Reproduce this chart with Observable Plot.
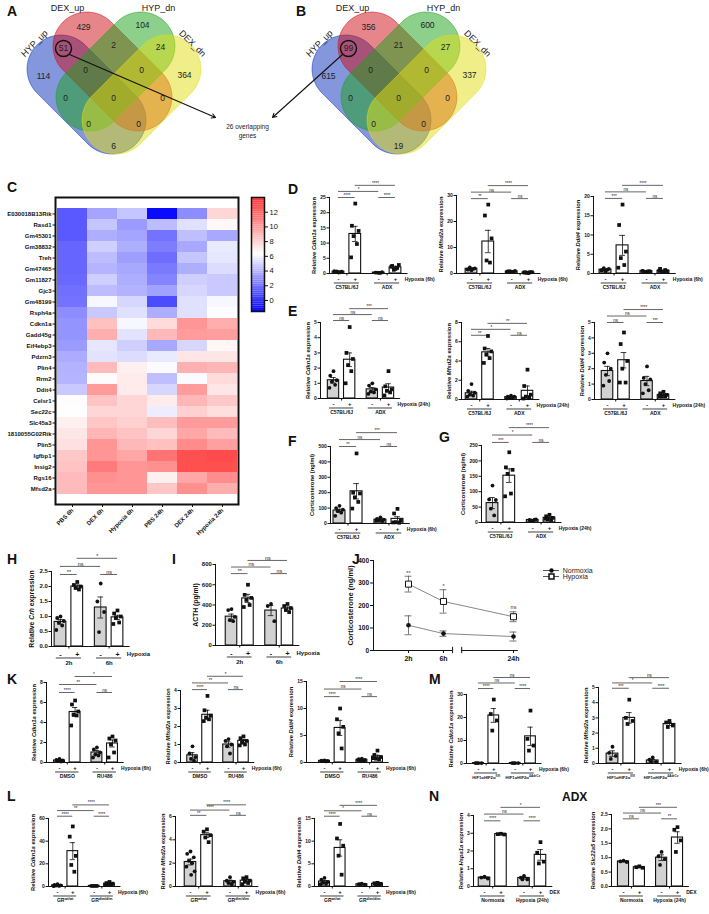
<!DOCTYPE html>
<html><head><meta charset="utf-8">
<script src="https://cdn.jsdelivr.net/npm/d3@7"></script>
<script src="https://cdn.jsdelivr.net/npm/@observablehq/plot@0.6"></script>
<style>
body{margin:0;background:#fff;font-family:"Liberation Sans",Arial,Helvetica,sans-serif;}
#fig{position:relative;width:709px;height:914px;overflow:hidden;background:#fff;}
#fig svg{position:absolute;overflow:visible;}
.lab{position:absolute;font-weight:bold;font-size:14px;line-height:1;color:#111;}
</style></head><body><div id="fig"></div><script>
// ================= DATA =================
// Venn (A, B)
const vennSets = ["HYP_up","DEX_up","HYP_dn","DEX_dn"];
const vennRegions = ["b","r","g","y","br","rg","gy","brg","rgy","bg","brgy","ry","bgy","bry","by"];
const vennCountsA = [114,429,104,364,51,2,24,0,0,0,0,0,0,0,6];
const vennCountsB = [615,356,600,337,99,21,27,0,0,0,0,0,0,0,19];
const overlapText = "26 overlapping\ngenes";

// Heatmap (C)
const heatConds = ["PBS 6h","DEX 6h","Hypoxia 6h","PBS 24h","DEX 24h","Hypoxia 24h"];
const heatGenes = ["E030018B13Rik","Rasd1","Gm45301","Gm38832","Treh","Gm47465","Gm11827","Gjc3","Gm48199","Rsph4a","Cdkn1a","Gadd45g","Eif4ebp3","Pdzrn3","Plin4","Rrm2","Ddit4","Celsr1","Sec22c","Slc45a3","1810055G02Rik","Plin5","Igfbp1","Insig2","Rgs16","Mfsd2a"];
const heatValues = [
 [1.2,3.5,4.5,-1.2,2.8,7.8],
 [1.2,4.5,3.2,4.2,5.3,6.5],
 [1.2,3.8,3.5,2.0,4.3,3.6],
 [1.6,4.8,3.8,2.3,3.6,5.6],
 [1.6,4.2,3.3,1.8,4.5,5.5],
 [1.6,4.0,3.6,2.2,3.8,5.2],
 [1.7,4.8,3.8,2.5,4.8,4.6],
 [1.9,4.2,3.9,3.4,5.0,4.6],
 [2.0,6.0,5.0,0.8,5.3,6.0],
 [2.8,4.6,5.3,3.8,5.3,6.2],
 [3.0,8.6,6.0,7.6,10.2,9.3],
 [3.0,9.3,5.4,8.9,10.0,9.9],
 [3.2,5.5,4.8,3.6,5.0,6.6],
 [3.7,5.4,5.2,5.6,7.2,7.2],
 [3.9,8.8,6.8,6.1,9.2,9.0],
 [4.0,6.4,7.0,4.3,6.1,7.6],
 [4.6,10.0,7.0,5.0,10.0,7.2],
 [6.2,8.5,7.8,7.0,9.0,8.3],
 [6.3,7.8,7.8,5.7,8.0,7.5],
 [6.8,8.4,8.0,8.7,10.0,10.0],
 [7.2,9.0,8.5,7.8,9.6,8.8],
 [7.4,10.2,8.9,8.6,10.6,9.8],
 [8.3,10.2,9.6,11.5,12.8,13.0],
 [8.5,11.2,10.2,10.4,12.8,12.8],
 [8.8,10.4,10.2,6.8,9.6,10.5],
 [8.8,10.2,10.2,8.4,10.4,9.3]
];
const heatTicks = [0,2,4,6,8,10,12];

// Bar panels: mean, sem, points per bar (-,+,-,+), significance [barA, barB, level, label]
const D1_mean=[0.6,13,0.3,2.0], D1_sem=[0.1,2.5,0.05,0.4];
const D1_pts=[[0.3,0.5,0.6,0.7,0.4,0.8],[23,15.7,14,12.3,9.7,5.3],[0.2,0.3,0.4,0.3,0.2],[1.5,2.5,2.8,1.2,1.8,2.2]];
const D1_sig=[[0,1,0,"****"],[0,2,1,"*"],[1,3,2,"****"],[2,3,0,"****"]];
const D2_mean=[1.8,12.3,0.8,0.4], D2_sem=[0.2,4.3,0.1,0.05];
const D2_pts=[[1.2,1.5,2.0,2.3,1.8,1.6],[26.5,22.3,13.5,5.0,4.2],[0.6,0.8,1.0,0.9,0.7,0.8],[0.2,0.4,0.5,0.3,0.5,0.4]];
const D2_sig=[[0,1,0,"**"],[0,2,1,"ns"],[1,3,2,"****"],[2,3,0,"ns"]];
const D3_mean=[1.0,7.3,0.6,0.7], D3_sem=[0.12,2.6,0.05,0.12];
const D3_pts=[[0.6,0.9,1.2,1.4,1.0,0.8],[17.9,12.6,5.7,4.0,2.2,1.5],[0.5,0.7,0.6,0.4,0.6,0.7],[0.4,1.2,0.6,0.5,0.9,0.7]];
const D3_sig=[[0,1,0,"***"],[0,2,1,"ns"],[1,3,2,"****"],[2,3,0,"ns"]];
const E1_mean=[1.2,2.55,0.6,0.72], E1_sem=[0.18,0.45,0.12,0.25];
const E1_pts=[[1.8,1.5,1.2,1.1,0.9,0.7],[4.7,3.0,2.6,2.2,1.8,1.0],[1.0,0.85,0.6,0.45,0.4,0.3],[1.8,0.8,0.6,0.5,0.4,0.2]];
const E1_sig=[[0,1,0,"ns"],[0,2,1,"ns"],[1,3,2,"***"],[2,3,0,"ns"]];
const E2_mean=[0.65,4.9,0.25,0.9], E2_sem=[0.2,0.4,0.05,0.5];
const E2_pts=[[1.6,0.9,0.7,0.5,0.4,0.3],[6.6,5.3,5.0,4.7,4.3,3.8],[0.4,0.3,0.3,0.2,0.2,0.1],[3.1,1.4,0.5,0.3,0.2,0.1]];
const E2_sig=[[0,1,0,"**"],[0,2,1,"*"],[1,3,2,"**"],[2,3,0,"ns"]];
const E3_mean=[1.85,2.55,1.2,0.3], E3_sem=[0.3,0.5,0.3,0.06];
const E3_pts=[[3.0,2.4,2.0,1.6,1.2,0.9],[4.35,3.6,2.5,2.0,1.1,1.1],[2.15,1.4,1.3,1.0,0.6,0.4],[0.5,0.4,0.3,0.2,0.2,0.2]];
const E3_sig=[[0,1,0,"ns"],[0,2,1,"ns"],[1,3,2,"****"],[2,3,0,"***"]];
const F_mean=[84,209,25,30], F_sem=[9,50,4,14];
const F_pts=[[115,100,90,80,70,50],[455,200,195,170,140,97],[40,30,25,20,15,18],[95,65,20,8,5,7]];
const F_sig=[[0,1,0,"**"],[0,2,1,"ns"],[1,3,2,"***"],[2,3,0,"ns"]];
const G_mean=[63,152,8,15], G_sem=[18,22,1.5,3];
const G_pts=[[120,75,73,45,23],[228,179,171,158,94,85],[5,8,10,7,9],[25,20,15,10,8,12]];
const G_sig=[[0,1,0,"***"],[0,2,1,"*"],[1,3,2,"****"],[2,3,0,"ns"]];
const H_mean=[0.82,2.0,1.3,0.97], H_sem=[0.08,0.05,0.35,0.07];
const H_pts=[[1.0,0.95,0.85,0.8,0.7,0.55],[2.15,2.05,2.0,1.95,1.9],[2.1,1.5,1.15,0.48],[1.2,1.1,1.0,0.95,0.8,0.75]];
const H_sig=[[0,1,0,"**"],[0,2,1,"ns"],[1,3,2,"*"],[2,3,0,"ns"]];
const I_mean=[285,465,345,365], I_sem=[25,40,50,15];
const I_pts=[[360,350,283,250,240],[600,500,470,450,400,380],[410,390,240],[410,390,370,350,330]];
const I_sig=[[0,1,0,"**"],[0,2,1,"ns"],[1,3,2,"ns"],[2,3,0,"ns"]];
const K1_mean=[0.2,5.05,1.0,1.9], K1_sem=[0.04,0.45,0.2,0.35];
const K1_pts=[[0.35,0.25,0.2,0.15,0.1],[6.2,5.8,5.1,4.8,4.7,3.7],[1.5,1.3,1.0,0.8,0.7,0.5],[2.6,2.4,2.2,1.8,1.0,0.5]];
const K1_sig=[[0,1,0,"****"],[0,2,1,"**"],[1,3,2,"*"],[2,3,0,"ns"]];
const K2_mean=[0.4,2.65,1.0,1.2], K2_sem=[0.15,0.25,0.15,0.08];
const K2_pts=[[0.9,0.5,0.3,0.2,0.1],[3.7,2.9,2.6,2.5,2.4,2.3],[1.3,1.2,1.0,0.9,0.5],[1.45,1.35,1.2,1.1,1.0,0.95]];
const K2_sig=[[0,1,0,"****"],[0,2,1,"**"],[1,3,2,"*"],[2,3,0,"ns"]];
const K3_mean=[0.3,6.4,0.5,1.1], K3_sem=[0.04,1.4,0.06,0.25];
const K3_pts=[[0.4,0.35,0.3,0.25,0.2],[10.0,8.0,6.6,5.4,2.6],[0.7,0.6,0.5,0.4,0.3,0.5],[2.2,1.4,1.0,0.7,0.6,0.8]];
const K3_sig=[[0,1,0,"****"],[0,2,1,"ns"],[1,3,2,"****"],[2,3,0,"ns"]];
const M1_mean=[0.2,20.9,0.2,11.8], M1_sem=[0.02,3.0,0.02,4.0];
const M1_pts=[[0.2,0.2,0.2,0.2],[27.8,21.5,18.7,14.3],[0.2,0.2,0.2,0.2],[23,10.7,7.8,5.6]];
const M1_sig=[[0,1,0,"****"],[0,2,1,"ns"],[1,3,2,"ns"],[2,3,0,"****"]];
const M2_mean=[0.65,3.0,0.2,2.6], M2_sem=[0.18,0.35,0.07,0.1];
const M2_pts=[[1.1,0.7,0.5,0.3],[4.2,3.0,2.8,2.6],[0.4,0.25,0.1,0.1],[2.8,2.7,2.5,2.4]];
const M2_sig=[[0,1,0,"***"],[0,2,1,"*"],[1,3,2,"ns"],[2,3,0,"****"]];
const L1_mean=[1.0,31.2,0.5,2.5], L1_sem=[0.3,7.5,0.05,0.4];
const L1_pts=[[2.0,1.5,1.0,0.8,0.5,0.3],[53,44,27,19,13],[0.5,0.5,0.5,0.5,0.5],[4,3,2.5,2,1.8,1.5]];
const L1_sig=[[0,1,0,"****"],[0,2,1,"**"],[1,3,2,"****"],[2,3,0,"****"]];
const L2_mean=[2.1,4.4,0.45,0.5], L2_sem=[0.25,0.2,0.1,0.1];
const L2_pts=[[3.0,2.8,2.5,2.2,2.0,1.7,1.3,1.0],[4.9,4.7,4.4,4.2,3.8],[0.8,0.5,0.4,0.3,0.2],[0.8,0.7,0.5,0.4,0.3,0.2]];
const L2_sig=[[0,1,0,"**"],[0,2,1,"****"],[1,3,2,"****"],[2,3,0,"ns"]];
const L3_mean=[1.1,8.5,0.5,0.6], L3_sem=[0.2,1.8,0.05,0.06];
const L3_pts=[[1.9,1.5,1.0,0.8,0.6,0.5],[13.8,10.6,9.0,6.8,2.6],[0.6,0.5,0.4,0.5],[0.8,0.7,0.6,0.5,0.5]];
const L3_sig=[[0,1,0,"****"],[0,2,1,"*"],[1,3,2,"****"],[2,3,0,"ns"]];
const N1_mean=[0.5,2.95,0.48,1.78], N1_sem=[0.03,0.02,0.06,0.3];
const N1_pts=[[0.55,0.5,0.45],[2.97,2.95,2.93],[0.6,0.5,0.4,0.4],[2.5,1.9,1.4,1.3]];
const N1_sig=[[0,1,0,"****"],[0,2,1,"ns"],[1,3,2,"*"],[2,3,0,"****"]];
const N2_mean=[0.87,0.67,1.0,1.7], N2_sem=[0.02,0.02,0.1,0.2];
const N2_pts=[[0.9,0.87,0.85],[0.7,0.67,0.65],[1.2,1.05,0.95,0.75],[2.06,1.97,1.6,1.2]];
const N2_sig=[[0,1,0,"ns"],[0,2,1,"ns"],[1,3,2,"***"],[2,3,0,"**"]];

// J (line chart)
const jTimes = ["2h","6h","24h"];
const jNormMean = [112,75,62], jNormSem = [42,12,20];
const jHypMean = [295,218,150], jHypSem = [35,52,22];
const jSigText = ["**","*","ns"], jSigVal = [345,287,192];
const jTicks = [0,100,200,300,400];

// ================= HELPERS =================
const FONT = '"Liberation Sans", Arial, Helvetica, sans-serif';
const SVGNS = "http://www.w3.org/2000/svg";
const fig = document.getElementById("fig");
function richify(root){
  root.querySelectorAll("text").forEach(t=>{
    const target = (t.children.length===1 && t.children[0].tagName==="tspan") ? t.children[0] : t;
    if (target.children.length) return;
    const s = target.textContent;
    if (!/[{^]/.test(s)) return;
    const parts = s.split(/(\^\{[^}]*\}|\{[^}]*\})/).filter(x=>x);
    target.textContent = "";
    for (const p of parts){
      const ts = document.createElementNS(SVGNS,"tspan");
      if (p.startsWith("^{")){ts.textContent=p.slice(2,-1);ts.setAttribute("baseline-shift","super");ts.setAttribute("font-size","72%");}
      else if (p.startsWith("{")){ts.textContent=p.slice(1,-1);ts.setAttribute("font-style","italic");}
      else ts.textContent=p;
      target.appendChild(ts);
    }
  });
}
function place(el,left,top){el.style.position="absolute";el.style.left=left+"px";el.style.top=top+"px";fig.appendChild(el);richify(el);}
function letter(t,x,y,size){const d=document.createElement("div");d.className="lab";d.textContent=t;d.style.left=x+"px";d.style.top=y+"px";if(size)d.style.fontSize=size+"px";fig.appendChild(d);}
const STYLE = {background:"none",overflow:"visible",fontFamily:FONT,fontWeight:"bold",color:"#111"};

// ================= VENN =================
(function(){
  const colors = ["#092db9","#cd0d15","#19a119","#e1dd11"];
  const shapes = [{cx:86,cy:94,a:45},{cx:112,cy:71,a:45},{cx:115,cy:71,a:135},{cx:141,cy:94,a:135}];
  const half = 36, R = 34, OFF = [0,285];
  function stadium(cx,cy,ang){
    const a=ang*Math.PI/180, ux=Math.cos(a), uy=Math.sin(a);
    const p2=[cx+ux*half,cy+uy*half], p1=[cx-ux*half,cy-uy*half], out=[];
    for(let i=0;i<=30;i++){const t=a-Math.PI/2+Math.PI*i/30;out.push([p2[0]+R*Math.cos(t),p2[1]+R*Math.sin(t)]);}
    for(let i=0;i<=30;i++){const t=a+Math.PI/2+Math.PI*i/30;out.push([p1[0]+R*Math.cos(t),p1[1]+R*Math.sin(t)]);}
    return out;
  }
  const regionXY = {b:[43,76],r:[83,27],g:[142,25],y:[184,75],br:[63,48],rg:[113,45],gy:[160,47],brg:[85,70],rgy:[141,70],bg:[65,98],brgy:[113,98],ry:[162,98],bgy:[88,124],bry:[138,124],by:[113,146]};
  const nameXY = [[34,43,-45],[67,8,0],[158,8,0],[192,43,45]];
  const marks = [];
  vennSets.forEach((s,k)=>{
    const poly = OFF.flatMap((ox,v)=>stadium(shapes[k].cx,shapes[k].cy,shapes[k].a).map(([x,y])=>({x:x+ox,y,v})));
    marks.push(Plot.line(poly,{x:"x",y:"y",z:"v",curve:"linear-closed",fill:colors[k],fillOpacity:0.5,stroke:colors[k],strokeOpacity:0.5,strokeWidth:1}));
  });
  const counts = [vennCountsA,vennCountsB].flatMap((arr,v)=>vennRegions.map((r,i)=>({x:regionXY[r][0]+OFF[v],y:regionXY[r][1],t:String(arr[i])})));
  const names = OFF.flatMap(ox=>vennSets.map((s,k)=>({x:nameXY[k][0]+ox,y:nameXY[k][1],rot:nameXY[k][2],t:s})));
  marks.push(Plot.text(counts,{x:"x",y:"y",text:"t",fontSize:8.5,fill:"#222",fontWeight:"normal"}));
  marks.push(Plot.text(names,{x:"x",y:"y",text:"t",rotate:"rot",fontSize:9,fill:"#222",fontWeight:"normal"}));
  marks.push(Plot.dot([{x:63,y:48},{x:348,y:48}],{x:"x",y:"y",r:8,stroke:"#111",strokeWidth:1.4,fill:"none"}));
  marks.push(Plot.arrow([{x1:69,y1:54,x2:215,y2:117},{x1:342,y1:54,x2:272,y2:117}],{x1:"x1",y1:"y1",x2:"x2",y2:"y2",stroke:"#111",strokeWidth:1.1,headLength:6}));
  marks.push(Plot.text([overlapText],{x:()=>247,y:()=>130,fontSize:6.5,lineHeight:1.45,fill:"#222",fontWeight:"normal"}));
  const p = Plot.plot({width:520,height:170,margin:0,x:{domain:[0,520],range:[0,520],axis:null},y:{domain:[0,170],range:[0,170],axis:null},style:STYLE,marks});
  place(p,0,0);
})();

// ================= HEATMAP =================
const COLOR = {type:"linear",domain:[-1.5,6.25,14],range:["#0000ff","#ffffff","#ff3030"]};
(function(){
  const cells = heatGenes.flatMap((g,i)=>heatConds.map((c,j)=>({gene:g,cond:c,v:heatValues[i][j]})));
  const p = Plot.plot({
    width:243,height:380,marginLeft:55,marginTop:7,marginRight:5,marginBottom:66,
    x:{domain:heatConds,padding:0,axis:null},y:{domain:heatGenes,padding:0,axis:null},color:COLOR,style:STYLE,
    marks:[
      Plot.cell(cells,{x:"cond",y:"gene",fill:"v"}),
      Plot.frame({stroke:"#111",strokeWidth:2}),
      Plot.axisY({tickSize:2.5,tickPadding:1.5,fontSize:6,label:null}),
      Plot.axisX({tickSize:3,tickPadding:2,tickRotate:-45,fontSize:6,label:null})
    ]});
  place(p,0,190);
  const grad = d3.range(-1.5,14,0.25);
  const cb = Plot.plot({
    width:42,height:126,marginLeft:2,marginTop:6,marginRight:27,marginBottom:6,
    x:{domain:[0,1],axis:null},y:{domain:[-1.5,14],axis:null},color:COLOR,style:{...STYLE,fontWeight:"normal"},
    marks:[
      Plot.rect(grad,{x1:()=>0,x2:()=>1,y1:d=>d,y2:d=>d+0.26,fill:d=>d+0.125}),
      Plot.frame({stroke:"#111",strokeWidth:1.5}),
      Plot.axisY(heatTicks,{anchor:"right",tickSize:3,tickPadding:2,fontSize:7.5,label:null,fontWeight:"normal"})
    ]});
  place(cb,249,191);
})();

// ================= BAR PANELS =================
const JIT = [0,-0.2,0.2,-0.1,0.1,-0.25,0.25,0.04];
const BW = 0.7;
function barPanel(L, D){
  const g = 2.4, pos = [0,1,g,g+1];
  const u = (L.b3-L.b0)/(g+1);
  const xmin = (L.ax-L.b0)/u, xmax = g+1.75;
  const fs = L.fs||5, lab = L.lab||[5.5,9.5,14], gfs = L.gfs||fs;
  const mL=44, mR=62, mT=36, mB=30;
  const fw=(xmax-xmin)*u, fh=L.y0-L.yt;
  const ytop = D.ticks[D.ticks.length-1];
  const fmt = D.fmt||(d=>String(d));
  const maxLen = d3.max(D.ticks,t=>fmt(t).length);
  const yl = 9 + maxLen*fs*0.62;
  const bars = D.mean.map((m,i)=>({pos:pos[i],mean:m,sem:D.sem[i],sign:i%2?"+":"-"}));
  const pts = D.pts.flatMap((a,i)=>a.map((v,j)=>({x:pos[i]+JIT[j%JIT.length],y:v,plus:i%2===1})));
  const sig = D.sig.map(([a,b,l,t])=>({x1:pos[a],x2:pos[b],y:D.sigBase+l*D.sigStep,t}));
  const grp = D.groups.map((t,k)=>({c:k?g+0.5:0.5,t}));
  const p = Plot.plot({
    width:mL+fw+mR,height:mT+fh+mB,marginLeft:mL,marginRight:mR,marginTop:mT,marginBottom:mB,
    x:{domain:[xmin,xmax],axis:null},y:{domain:[0,ytop],axis:null},style:{...STYLE,fontSize:fs+"px"},
    marks:[
      Plot.rectY(bars.filter(d=>d.sign==="-"),{x1:d=>d.pos-BW/2,x2:d=>d.pos+BW/2,y:"mean",fill:"#d2d2d2",stroke:"#111",strokeWidth:1.1}),
      Plot.rectY(bars.filter(d=>d.sign==="+"),{x1:d=>d.pos-BW/2,x2:d=>d.pos+BW/2,y:"mean",fill:"#fff",stroke:"#111",strokeWidth:1.1}),
      Plot.ruleX(bars,{x:"pos",y1:d=>Math.max(0,d.mean-d.sem),y2:d=>d.mean+d.sem,stroke:"#111",strokeWidth:0.8}),
      Plot.ruleY(bars,{y:d=>d.mean+d.sem,x1:d=>d.pos-0.17,x2:d=>d.pos+0.17,stroke:"#111",strokeWidth:0.8}),
      Plot.ruleY(bars.filter(d=>d.mean-d.sem>0),{y:d=>d.mean-d.sem,x1:d=>d.pos-0.17,x2:d=>d.pos+0.17,stroke:"#111",strokeWidth:0.8}),
      Plot.dot(pts.filter(d=>!d.plus),{x:"x",y:"y",r:1.9,fill:"#111"}),
      Plot.dot(pts.filter(d=>d.plus),{x:"x",y:"y",r:2.1,symbol:"square",fill:"#111"}),
      Plot.ruleX([xmin],{y1:0,y2:ytop,stroke:"#111",strokeWidth:1}),
      Plot.ruleY([0],{x1:xmin,x2:xmax,stroke:"#111",strokeWidth:1}),
      Plot.axisY(D.ticks,{tickSize:2.5,tickPadding:1.2,fontSize:fs,tickFormat:fmt,label:null}),
      Plot.axisX([0.5,g+0.5],{tickSize:2.5,tickFormat:()=>"",label:null}),
      Plot.ruleY(sig,{y:"y",x1:"x1",x2:"x2",stroke:"#222",strokeWidth:0.7}),
      Plot.text(sig,{x:d=>(d.x1+d.x2)/2,y:"y",text:"t",fontSize:fs*0.9,lineAnchor:"bottom",dy:-0.6,fontWeight:"normal",fill:"#222"}),
      Plot.text(bars,{x:"pos",y:()=>0,text:"sign",dy:lab[0],fontSize:fs+1}),
      Plot.ruleY(grp,{y:()=>0,x1:d=>d.c-0.75,x2:d=>d.c+0.75,dy:lab[1],stroke:"#111",strokeWidth:0.8}),
      Plot.text(grp,{x:"c",y:()=>0,text:"t",dy:lab[2],fontSize:gfs}),
      Plot.text([D.cond],{x:()=>g+1+0.55,y:()=>0,dy:lab[0],textAnchor:"start",fontSize:fs}),
      Plot.text([D.ylabel],{x:()=>xmin,y:()=>ytop/2,rotate:-90,dx:-yl,fontSize:fs+0.8})
    ]});
  place(p,L.ax-mL,L.yt-mT);
}
const H6="Hypoxia (6h)", H24="Hypoxia (24h)", C57=["C57BL/6J","ADX"];
const lCdk="Relative {Cdkn1a} expression", lMfs="Relative {Mfsd2a} expression", lDdi="Relative {Ddit4} expression", lCort="Corticosterone (ng/ml)";
barPanel({ax:329,b0:338,b3:395,y0:273,yt:197},{mean:D1_mean,sem:D1_sem,pts:D1_pts,sig:D1_sig,sigBase:25,sigStep:2,ticks:[0,5,10,15,20,25],ylabel:lCdk,groups:C57,cond:H6});
barPanel({ax:456,b0:471,b3:528,y0:273,yt:195},{mean:D2_mean,sem:D2_sem,pts:D2_pts,sig:D2_sig,sigBase:28.8,sigStep:2.5,ticks:[0,10,20,30],ylabel:lMfs,groups:C57,cond:H6});
barPanel({ax:593,b0:605,b3:663,y0:273,yt:196},{mean:D3_mean,sem:D3_sem,pts:D3_pts,sig:D3_sig,sigBase:19.5,sigStep:1.7,ticks:[0,5,10,15,20],ylabel:lDdi,groups:C57,cond:H6});
barPanel({ax:320,b0:333,b3:388,y0:398,yt:322},{mean:E1_mean,sem:E1_sem,pts:E1_pts,sig:E1_sig,sigBase:5.13,sigStep:0.39,ticks:[0,1,2,3,4,5],ylabel:lCdk,groups:C57,cond:H24});
barPanel({ax:461,b0:471,b3:527,y0:399,yt:322},{mean:E2_mean,sem:E2_sem,pts:E2_pts,sig:E2_sig,sigBase:6.67,sigStep:0.62,ticks:[0,2,4,6,8],ylabel:lMfs,groups:C57,cond:H24});
barPanel({ax:594,b0:607,b3:663,y0:399,yt:322},{mean:E3_mean,sem:E3_sem,pts:E3_pts,sig:E3_sig,sigBase:5.0,sigStep:0.42,ticks:[0,1,2,3,4,5],ylabel:lDdi,groups:C57,cond:H24});
barPanel({ax:330,b0:339,b3:397,y0:523,yt:446},{mean:F_mean,sem:F_sem,pts:F_pts,sig:F_sig,sigBase:500,sigStep:45,ticks:[0,100,200,300,400,500],ylabel:lCort,groups:C57,cond:H6});
barPanel({ax:481,b0:492,b3:549,y0:522,yt:445},{mean:G_mean,sem:G_sem,pts:G_pts,sig:G_sig,sigBase:260,sigStep:24,ticks:[0,50,100,150,200,250],ylabel:lCort,groups:C57,cond:H24});
barPanel({ax:51,b0:60,b3:117,y0:646,yt:571,fs:6,lab:[8,11.5,16.5]},{mean:H_mean,sem:H_sem,pts:H_pts,sig:H_sig,sigBase:2.4,sigStep:0.27,ticks:[0,0.5,1,1.5,2,2.5],fmt:d3.format(".1f"),ylabel:"Relative {Crh} expression",groups:["2h","6h"],cond:"Hypoxia"});
barPanel({ax:215,b0:231,b3:287,y0:645,yt:564,fs:6,lab:[8,11.5,16.5]},{mean:I_mean,sem:I_sem,pts:I_pts,sig:I_sig,sigBase:710,sigStep:65,ticks:[0,200,400,600,800],ylabel:"ACTH (pg/ml)",groups:["2h","6h"],cond:"Hypoxia"});
barPanel({ax:46,b0:59,b3:112,y0:762,yt:682},{mean:K1_mean,sem:K1_sem,pts:K1_pts,sig:K1_sig,sigBase:7,sigStep:0.8,ticks:[0,2,4,6,8],ylabel:lCdk,groups:["DMSO","RU486"],cond:H6});
barPanel({ax:180,b0:192,b3:243,y0:762,yt:690},{mean:K2_mean,sem:K2_sem,pts:K2_pts,sig:K2_sig,sigBase:4.05,sigStep:0.37,ticks:[0,1,2,3,4],ylabel:lMfs,groups:["DMSO","RU486"],cond:H6});
barPanel({ax:306,b0:324,b3:377,y0:762,yt:681},{mean:K3_mean,sem:K3_sem,pts:K3_pts,sig:K3_sig,sigBase:12.2,sigStep:1.4,ticks:[0,5,10,15],ylabel:lDdi,groups:["DMSO","RU486"],cond:H6});
const HIF=["HIF1αHIF2α^{fl/fl}","HIF1αHIF2α^{ΔAdrCx}"];
barPanel({ax:466,b0:478,b3:530,y0:763,yt:694,gfs:4.2},{mean:M1_mean,sem:M1_sem,pts:M1_pts,sig:M1_sig,sigBase:32.6,sigStep:2.4,ticks:[0,10,20,30],ylabel:lCdk,groups:HIF,cond:H6});
barPanel({ax:598,b0:612,b3:669,y0:763,yt:687,gfs:4.2},{mean:M2_mean,sem:M2_sem,pts:M2_pts,sig:M2_sig,sigBase:4.95,sigStep:0.35,ticks:[0,1,2,3,4,5],ylabel:lMfs,groups:HIF,cond:H6});
const GR=["GR^{wt/wt}","GR^{dim/dim}"];
barPanel({ax:48,b0:57,b3:109,y0:886,yt:818},{mean:L1_mean,sem:L1_sem,pts:L1_pts,sig:L1_sig,sigBase:62,sigStep:5,ticks:[0,20,40,60],ylabel:lCdk,groups:GR,cond:H6});
barPanel({ax:175,b0:190,b3:246,y0:886,yt:816},{mean:L2_mean,sem:L2_sem,pts:L2_pts,sig:L2_sig,sigBase:6.1,sigStep:0.45,ticks:[0,2,4,6],ylabel:lMfs,groups:GR,cond:H6});
barPanel({ax:314,b0:324,b3:377,y0:886,yt:818},{mean:L3_mean,sem:L3_sem,pts:L3_pts,sig:L3_sig,sigBase:15.5,sigStep:1.2,ticks:[0,5,10,15],ylabel:lDdi,groups:GR,cond:H6});
barPanel({ax:473,b0:484,b3:540,y0:886,yt:815},{mean:N1_mean,sem:N1_sem,pts:N1_pts,sig:N1_sig,sigBase:3.7,sigStep:0.38,ticks:[0,1,2,3,4],ylabel:"Relative {Hspa1a} expression",groups:["Normoxia","Hypoxia (24h)"],cond:"DEX"});
barPanel({ax:611,b0:623,b3:677,y0:886,yt:814},{mean:N2_mean,sem:N2_sem,pts:N2_pts,sig:N2_sig,sigBase:2.35,sigStep:0.2,ticks:[0,0.5,1,1.5,2,2.5],fmt:d3.format(".1f"),ylabel:"Relative {Slc22a5} expression",groups:["Normoxia","Hypoxia (24h)"],cond:"DEX"});

// ================= J =================
(function(){
  const xpos = [0,1,3]; // axis positions (break between 6h and 24h)
  const rows = jTimes.flatMap((t,i)=>[
    {t,x:xpos[i],cond:"Normoxia",m:jNormMean[i],s:jNormSem[i]},
    {t,x:xpos[i],cond:"Hypoxia",m:jHypMean[i],s:jHypSem[i]}]);
  const sig = jTimes.map((t,i)=>({x:xpos[i],y:jSigVal[i],t:jSigText[i]}));
  const u=35, xmin=-1, xmax=3.14, bk=[1.26,1.52];
  const mL=44,mR=10,mT=14,mB=20, fh=650-560;
  const p = Plot.plot({
    width:mL+(xmax-xmin)*u+mR,height:mT+fh+mB,marginLeft:mL,marginRight:mR,marginTop:mT,marginBottom:mB,
    x:{domain:[xmin,xmax],axis:null},y:{domain:[0,400],axis:null},style:{...STYLE,fontSize:"6.5px"},
    marks:[
      Plot.ruleX([xmin],{y1:0,y2:400,stroke:"#111",strokeWidth:1}),
      Plot.ruleY([0],{x1:xmin,x2:bk[0],stroke:"#111",strokeWidth:1}),
      Plot.ruleY([0],{x1:bk[1],x2:xmax,stroke:"#111",strokeWidth:1}),
      Plot.ruleX(bk,{y1:-14,y2:14,stroke:"#111",strokeWidth:1}),
      Plot.axisY(jTicks,{tickSize:3,tickPadding:1.5,fontSize:6.5,label:null}),
      Plot.axisX(xpos,{tickSize:3,tickPadding:3,fontSize:7,tickFormat:d=>jTimes[xpos.indexOf(d)],label:null}),
      Plot.line(rows,{x:"x",y:"m",z:"cond",stroke:"#888",strokeWidth:1}),
      Plot.ruleX(rows,{x:"x",y1:d=>d.m-d.s,y2:d=>d.m+d.s,stroke:"#555",strokeWidth:0.8}),
      Plot.ruleY(rows,{y:d=>d.m+d.s,x1:d=>d.x-0.1,x2:d=>d.x+0.1,stroke:"#555",strokeWidth:0.8}),
      Plot.ruleY(rows,{y:d=>d.m-d.s,x1:d=>d.x-0.1,x2:d=>d.x+0.1,stroke:"#555",strokeWidth:0.8}),
      Plot.dot(rows.filter(d=>d.cond==="Normoxia"),{x:"x",y:"m",r:2.3,fill:"#111"}),
      Plot.dot(rows.filter(d=>d.cond==="Hypoxia"),{x:"x",y:"m",r:3.4,symbol:"square",fill:"#fff",stroke:"#111",strokeWidth:1}),
      Plot.text(sig,{x:"x",y:"y",text:"t",fontSize:5.5,fontWeight:"normal",fill:"#333"}),
      Plot.text(["Corticosterone (ng/ml)"],{x:()=>xmin,y:()=>200,rotate:-90,dx:-23,fontSize:7.5})
    ]});
  place(p,373-mL,560-mT);
  const leg = ["Normoxia","Hypoxia"];
  const lp = Plot.plot({width:80,height:28,margin:0,x:{domain:[0,10],range:[0,80],axis:null},y:{domain:leg,range:[7,19],axis:null},style:{...STYLE,fontWeight:"normal"},
    marks:[
      Plot.ruleY(leg,{y:d=>d,x1:()=>0,x2:()=>2,stroke:"#555"}),
      Plot.dot(leg.slice(0,1),{y:d=>d,x:()=>1,r:2.2,fill:"#111"}),
      Plot.dot(leg.slice(1),{y:d=>d,x:()=>1,r:2.8,symbol:"square",fill:"#fff",stroke:"#111"}),
      Plot.text(leg,{y:d=>d,x:()=>2.4,text:d=>d,textAnchor:"start",fontSize:7,fill:"#222"})
    ]});
  place(lp,543,560);
})();

// ================= LETTERS =================
[["A",7,4],["B",296,4],["C",7,180],["D",288,182],["E",288,304],["F",288,434],["G",439,430],["H",7,552],["I",172,552],["J",352,552],["K",7,672],["M",429,672],["L",7,789],["N",429,789]].forEach(([t,x,y])=>letter(t,x,y));
letter("ADX",562,791,12);
</script></body></html>
